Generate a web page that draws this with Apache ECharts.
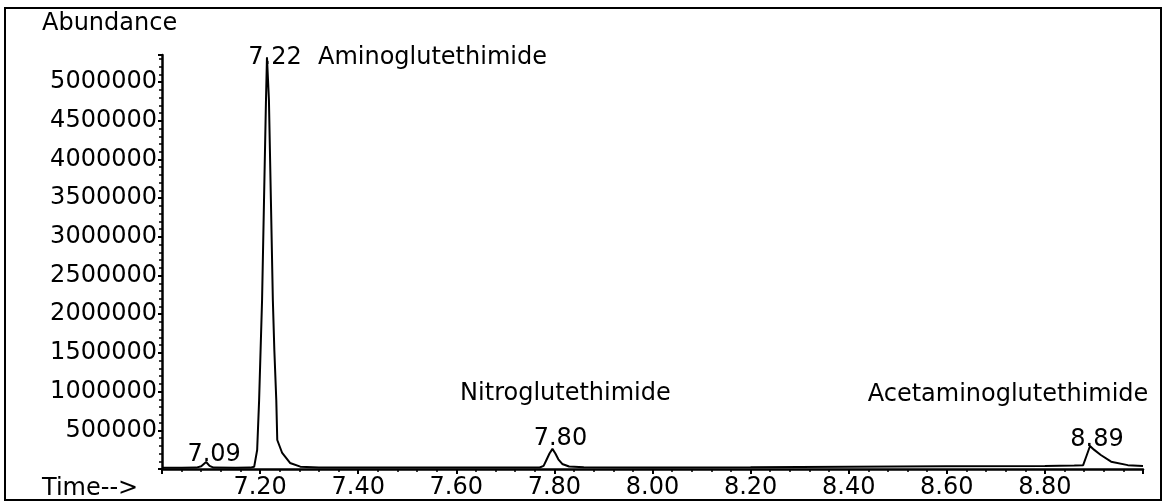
<!DOCTYPE html>
<html>
<head>
<meta charset="utf-8">
<script src="https://cdn.jsdelivr.net/npm/echarts@6/dist/echarts.min.js"></script>
<style>
html,body{margin:0;padding:0;background:#fff;}
#chart{width:1163px;height:502px;}
</style>
</head>
<body>
<div id="chart"></div>
<script>
// Chromatogram trace (retention time in minutes, abundance)
const timeVals = [
  7.000, 7.040, 7.070, 7.080, 7.090, 7.097, 7.105, 7.150, 7.180,
  7.188, 7.194, 7.198, 7.204, 7.208, 7.212, 7.214, 7.218, 7.222, 7.226,
  7.229, 7.233, 7.235, 7.245, 7.261, 7.282, 7.320, 7.500, 7.700,
  7.770, 7.778, 7.784, 7.790, 7.796, 7.802, 7.808, 7.816, 7.830, 7.860,
  8.000, 8.200, 8.400, 8.600, 8.800, 8.860, 8.878, 8.884, 8.892, 8.900,
  8.914, 8.935, 8.969, 9.000
];
const abundanceVals = [
  15000, 15000, 18000, 35000, 90000, 40000, 18000, 15000, 18000,
  30000, 245000, 890000, 2180000, 3480000, 4770000, 5320000, 4770000, 3480000, 2180000,
  1540000, 890000, 375000, 207000, 78000, 30000, 20000, 18000, 18000,
  20000, 40000, 120000, 200000, 260000, 200000, 125000, 65000, 32000, 22000,
  20000, 22000, 28000, 35000, 40000, 45000, 50000, 155000, 297000, 250000,
  181000, 95000, 50000, 40000
];

// Peak annotations
const peakTimes = [7.09, 7.214, 7.796, 8.892];
const peakAbund = [90000, 5320000, 260000, 297000];
const peakLabels = ['7.09', '7.22', '7.80', '8.89'];

// Compound names, attached to peaks (index into peak arrays)
const compoundNames = ['Aminoglutethimide', 'Nitroglutethimide', 'Acetaminoglutethimide'];
const compoundPeakIdx = [1, 2, 3];

// Axis settings
const xMin = 7.0, xMax = 9.0, xStep = 0.2;
const yMin = 0, yMax = 5350000, yStep = 500000;

const FONT = 'DejaVu Sans';
const FS = 24;

const peakLabelOffsets = [[8, -7], [8, 0], [8, -10], [7, -6]];
const nameLabelStyles = [
  {align: 'left', offset: [51, 0]},
  {align: 'center', offset: [13, -55]},
  {align: 'center', offset: [-82, -51]}
];

const labelBase = {
  show: true, position: 'inside', verticalAlign: 'middle',
  color: '#000', fontFamily: FONT, fontSize: FS,
  textBorderWidth: 0, opacity: 1
};

const chart = echarts.init(document.getElementById('chart'));
const option = {
  animation: false,
  backgroundColor: '#fff',
  grid: {left: 162, right: 20, top: 55, bottom: 33},
  xAxis: {
    type: 'value', min: xMin, max: xMax, interval: xStep,
    axisLine: {show: true, onZero: false, lineStyle: {color: '#000', width: 2.5}},
    axisTick: {show: true, length: 5, lineStyle: {color: '#000', width: 2}},
    minorTick: {show: true, splitNumber: 5, length: 3, lineStyle: {color: '#000', width: 1.5}},
    splitLine: {show: false},
    axisLabel: {
      showMinLabel: false, showMaxLabel: false,
      formatter: v => v.toFixed(2),
      color: '#000', fontFamily: FONT, fontSize: FS, margin: 7
    }
  },
  yAxis: {
    type: 'value', min: yMin, max: yMax, interval: yStep,
    axisLine: {show: true, lineStyle: {color: '#000', width: 2.5}},
    axisTick: {show: true, length: 4, lineStyle: {color: '#000', width: 2}},
    minorTick: {show: true, splitNumber: 5, length: 3, lineStyle: {color: '#000', width: 1.5}},
    splitLine: {show: false},
    axisLabel: {
      showMinLabel: false, showMaxLabel: false,
      formatter: v => String(Math.round(v)),
      color: '#000', fontFamily: FONT, fontSize: FS, margin: 5
    }
  },
  series: [
    {
      type: 'line',
      data: timeVals.map((t, i) => [t, abundanceVals[i]]),
      showSymbol: false,
      symbol: 'none',
      lineStyle: {color: '#000', width: 2},
      z: 3
    },
    {
      type: 'scatter',
      symbolSize: 1,
      itemStyle: {color: 'rgba(0,0,0,0)', opacity: 1},
      silent: true,
      z: 4,
      data: peakTimes.map((t, i) => ({
        value: [t, peakAbund[i]],
        label: Object.assign({}, labelBase, {
          formatter: peakLabels[i], align: 'center', offset: peakLabelOffsets[i]
        })
      }))
    },
    {
      type: 'scatter',
      symbolSize: 1,
      itemStyle: {color: 'rgba(0,0,0,0)', opacity: 1},
      silent: true,
      z: 4,
      data: compoundNames.map((n, i) => ({
        value: [peakTimes[compoundPeakIdx[i]], peakAbund[compoundPeakIdx[i]]],
        label: Object.assign({}, labelBase, {
          formatter: n, align: nameLabelStyles[i].align, offset: nameLabelStyles[i].offset
        })
      }))
    }
  ],
  graphic: [
    {type: 'rect', shape: {x: 5, y: 8, width: 1156, height: 492},
     style: {fill: 'none', stroke: '#000', lineWidth: 2}, silent: true},
    {type: 'text', x: 42, y: 24,
     style: {text: 'Abundance', fill: '#000', font: FS + 'px "' + FONT + '"', verticalAlign: 'middle'}},
    {type: 'text', x: 42, y: 489,
     style: {text: 'Time-->', fill: '#000', font: FS + 'px "' + FONT + '"', verticalAlign: 'middle'}}
  ]
};
chart.setOption(option);
</script>
</body>
</html>
